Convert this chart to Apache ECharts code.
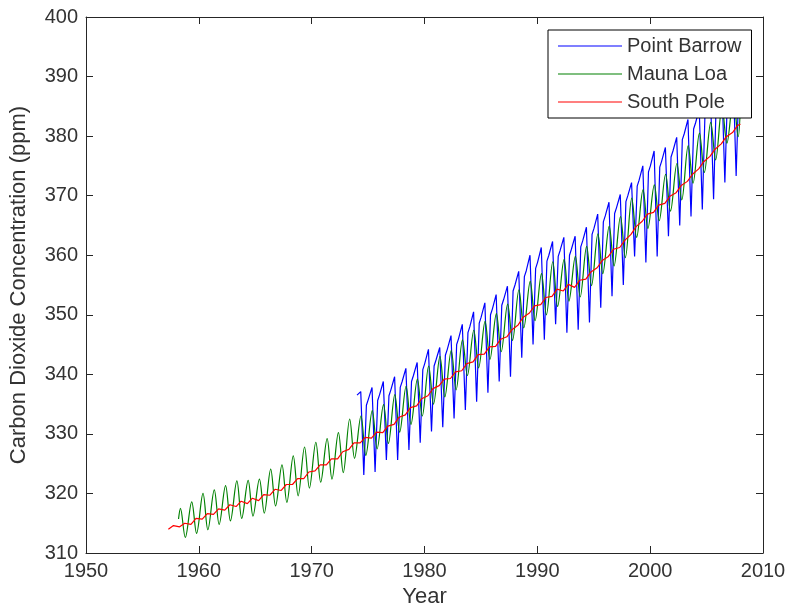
<!DOCTYPE html>
<html>
<head>
<meta charset="utf-8">
<title>Carbon Dioxide Concentration</title>
<script src="https://cdn.jsdelivr.net/npm/echarts@6/dist/echarts.min.js"></script>
<style>
  html, body { margin: 0; padding: 0; background: #fff; }
  #chart { width: 790px; height: 606px; }
</style>
</head>
<body>
<div id="chart"></div>
<script>
// Point Barrow, one entry per year from 1974
// winter = January, peak = May, trough = August, autumn = November
const brwStart = 1974;
const brwWinter = [336.5, 335.8, 336.6, 337.4, 338.8, 339.8, 341.8, 342.4, 344.2, 346.0,
  348.0, 349.6, 351.0, 352.6, 355.0, 357.4, 358.8, 360.0, 360.8, 361.0,
  362.4, 364.5, 366.6, 368.0, 370.0, 372.6, 375.0, 375.8, 377.5, 380.4,
  382.2, 384.2, 386.6, 388.0, 389.0];
const brwPeak = [337.1, 337.8, 338.8, 339.6, 341.0, 342.0, 344.2, 344.5, 346.5, 348.4,
  350.5, 352.0, 353.4, 354.8, 357.3, 360.0, 361.3, 362.3, 363.0, 363.2,
  364.7, 366.9, 368.9, 370.2, 372.2, 375.0, 377.5, 378.1, 379.8, 382.8,
  384.5, 386.5, 389.0, 390.5];
const brwTrough = [323.1, 323.6, 325.6, 325.6, 327.3, 328.5, 330.4, 331.1, 332.6, 334.0,
  335.4, 336.9, 338.8, 339.6, 342.8, 345.0, 345.8, 348.4, 347.0, 347.5,
  348.7, 351.2, 353.1, 355.0, 359.8, 358.8, 359.8, 363.2, 365.0, 366.5,
  367.7, 369.4, 372.2, 373.3];
const brwAutumn = [334.8, 335.6, 336.4, 337.8, 338.8, 340.8, 341.4, 343.2, 345.0, 347.0,
  348.6, 350.0, 351.6, 354.0, 356.4, 357.8, 359.0, 359.8, 360.0, 361.4,
  363.5, 365.6, 367.0, 369.0, 371.6, 374.0, 374.8, 376.5, 379.4, 381.2,
  383.2, 385.6, 387.0, 388.0];

// Mauna Loa, one entry per year from 1958 (peak = May, trough = October)
const mloStart = 1958;
const mloFirst = 315.7;   // March 1958
const mloLast = 385.4;    // January 2008
const mloPeak = [317.5, 318.6, 320.0, 320.6, 321.3, 322.1, 322.2, 322.4, 324.1, 324.8,
  326.3, 327.8, 328.6, 329.2, 330.2, 332.5, 333.0, 333.9, 334.9, 336.6,
  338.0, 339.2, 341.4, 343.0, 344.0, 345.8, 347.4, 348.9, 350.2, 351.8,
  354.2, 355.6, 356.9, 358.9, 359.3, 359.8, 361.5, 363.6, 364.9, 366.5,
  369.6, 371.0, 371.8, 373.6, 375.4, 378.4, 380.5, 382.3, 384.9, 386.2];
const mloTrough = [312.6, 313.3, 313.9, 314.8, 315.4, 315.8, 316.2, 316.7, 317.9, 318.5,
  319.6, 320.9, 321.9, 322.4, 323.5, 325.9, 326.4, 327.5, 328.4, 330.3,
  331.6, 333.0, 335.0, 336.2, 337.4, 339.8, 341.1, 342.5, 343.8, 345.7,
  347.8, 349.0, 350.0, 351.4, 352.3, 353.0, 354.9, 356.9, 358.2, 359.6,
  363.0, 364.5, 365.8, 367.4, 369.3, 372.1, 373.9, 376.0, 378.8, 379.9];

// South Pole, one entry per year from 1957 (low = March, high = September)
const spoStart = 1957;
const spoLast = 382.0;    // January 2008
const spoLow = [314.0, 314.4, 314.8, 315.7, 316.5, 317.2, 317.8, 318.3, 318.8, 319.7,
  320.5, 321.5, 322.5, 323.8, 324.8, 325.8, 327.4, 328.5, 329.3, 330.2,
  331.6, 333.2, 334.7, 336.4, 338.1, 339.3, 340.6, 342.1, 343.4, 344.7,
  346.3, 348.3, 350.3, 351.7, 353.1, 354.0, 354.6, 356.0, 357.9, 359.8,
  361.3, 363.5, 365.7, 367.2, 368.7, 370.5, 372.4, 374.5, 376.6, 378.7, 380.6];
const spoHigh = [314.6, 315.0, 315.8, 316.6, 317.4, 318.1, 318.7, 319.2, 319.8, 320.7,
  321.5, 322.5, 323.6, 324.8, 325.8, 327.0, 328.5, 329.4, 330.3, 331.3,
  332.8, 334.4, 335.9, 337.6, 339.2, 340.4, 341.8, 343.3, 344.6, 345.9,
  347.5, 349.6, 351.5, 352.9, 354.3, 355.1, 355.8, 357.2, 359.1, 361.0,
  362.5, 364.8, 366.9, 368.4, 369.9, 371.7, 373.6, 375.7, 377.8, 379.9, 381.8];

const seriesNames = ['Point Barrow', 'Mauna Loa', 'South Pole'];
const seriesColors = ['#0000ff', '#008000', '#ff0000'];
const seriesSmooth = [false, 0.35, false];

// build [year, ppm] pairs
const brwData = [];
brwPeak.forEach((p, i) => {
  const y = brwStart + i;
  brwData.push([y + 0.02, brwWinter[i]], [y + 0.35, p], [y + 0.62, brwTrough[i]], [y + 0.85, brwAutumn[i]]);
});
brwData.push([brwStart + brwPeak.length, brwWinter[brwPeak.length]]);

const mloData = [[mloStart + 0.2, mloFirst]];
mloPeak.forEach((p, i) => {
  const y = mloStart + i;
  mloData.push([y + 0.37, p], [y + 0.8, mloTrough[i]]);
});
mloData.push([mloStart + mloPeak.length, mloLast]);

const spoData = [];
spoLow.forEach((v, i) => {
  const y = spoStart + i;
  spoData.push([y + 0.3, v], [y + 0.75, spoHigh[i]]);
});
spoData.push([spoStart + spoLow.length, spoLast]);

const allData = [brwData, mloData, spoData];

const chart = echarts.init(document.getElementById('chart'));
const tickText = { fontFamily: 'Liberation Sans', fontSize: 20, color: '#333' };
const titleText = { fontFamily: 'Liberation Sans', fontSize: 22, color: '#333' };
const axisLine = { show: true, onZero: false, lineStyle: { color: '#262626', width: 1 } };
const tick = { show: true, inside: true, length: 7, lineStyle: { color: '#262626' } };

const option = {
  animation: false,
  backgroundColor: '#fff',
  textStyle: tickText,
  grid: { left: 86, right: 27, top: 17, bottom: 53, outerBoundsMode: 'none', containLabel: false },
  legend: {
    left: 548,
    top: 30,
    orient: 'vertical',
    icon: 'rect',
    itemWidth: 64,
    itemHeight: 1,
    itemGap: 8,
    padding: [6, 10, 6, 10],
    borderColor: '#000',
    borderWidth: 1,
    backgroundColor: '#fff',
    textStyle: { fontFamily: 'Liberation Sans', fontSize: 20, color: '#333', lineHeight: 20 },
    data: seriesNames
  },
  xAxis: [
    {
      type: 'value', min: 1950, max: 2010, interval: 10,
      name: 'Year', nameLocation: 'middle', nameGap: 32,
      nameTextStyle: titleText,
      axisLine: axisLine, axisTick: tick,
      axisLabel: Object.assign({ margin: 8, formatter: v => String(v) }, tickText),
      splitLine: { show: false }
    },
    {
      type: 'value', position: 'top', min: 1950, max: 2010, interval: 10,
      axisLine: axisLine, axisTick: tick,
      axisLabel: { show: false }, splitLine: { show: false }
    }
  ],
  yAxis: [
    {
      type: 'value', min: 310, max: 400, interval: 10,
      name: 'Carbon Dioxide Concentration (ppm)', nameLocation: 'middle', nameGap: 56,
      nameTextStyle: titleText,
      axisLine: axisLine, axisTick: tick,
      axisLabel: Object.assign({ margin: 8 }, tickText),
      splitLine: { show: false }
    },
    {
      type: 'value', position: 'right', min: 310, max: 400, interval: 10,
      axisLine: axisLine, axisTick: tick,
      axisLabel: { show: false }, splitLine: { show: false }
    }
  ],
  series: seriesNames.map((name, i) => ({
    name: name,
    type: 'line',
    data: allData[i],
    symbol: 'none',
    showSymbol: false,
    smooth: seriesSmooth[i],
    color: seriesColors[i],
    lineStyle: { color: seriesColors[i], width: 1.2 },
    z: 2 + i
  }))
};

chart.setOption(option);
</script>
</body>
</html>
